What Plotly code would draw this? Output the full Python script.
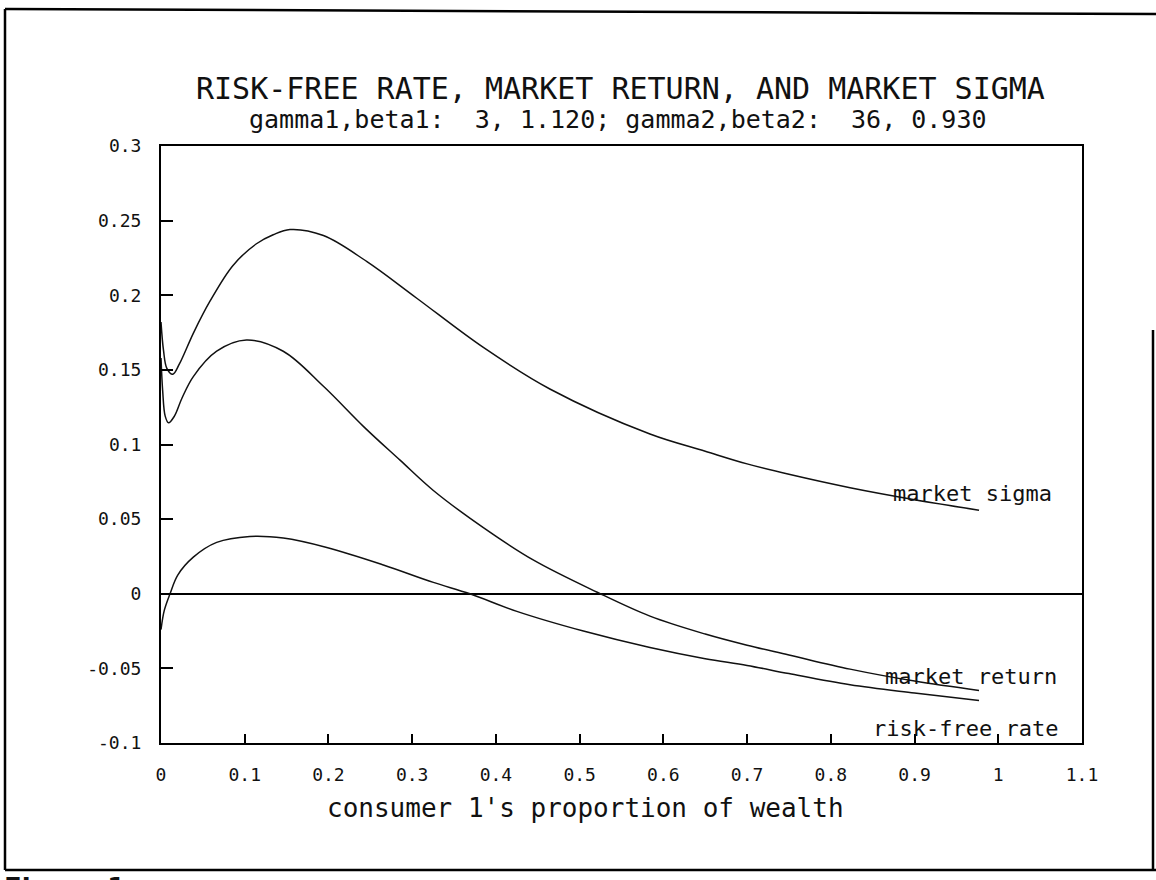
import plotly.graph_objects as go

# consumer 1's share of aggregate wealth, and the three equilibrium series
sigma_x = [0.000, 0.003, 0.007, 0.014, 0.022, 0.039, 0.0585, 0.086, 0.114, 0.134, 0.154,
           0.194, 0.246, 0.3055, 0.385, 0.465, 0.584, 0.65, 0.70, 0.75, 0.823, 0.90, 0.977]
sigma_y = [0.182, 0.163, 0.151, 0.147, 0.154, 0.175, 0.196, 0.220, 0.2345, 0.2405, 0.244,
           0.240, 0.2225, 0.198, 0.165, 0.137, 0.107, 0.0955, 0.087, 0.080, 0.071, 0.063, 0.056]

ret_x = [0.000, 0.002, 0.005, 0.009, 0.016, 0.025, 0.0386, 0.0665, 0.102, 0.146,
         0.194, 0.242, 0.2855, 0.3253, 0.385, 0.445, 0.521, 0.584, 0.65, 0.70, 0.75,
         0.823, 0.90, 0.977]
ret_y = [0.158, 0.136, 0.119, 0.1145, 0.119, 0.131, 0.1455, 0.1625, 0.170, 0.1625,
         0.139, 0.112, 0.0895, 0.0692, 0.0443, 0.0225, 0.001, -0.015, -0.027, -0.0345,
         -0.041, -0.0505, -0.0585, -0.0648]

rf_x = [0.000, 0.004, 0.0108, 0.02, 0.0386, 0.0665, 0.106, 0.146, 0.198, 0.2656,
        0.3253, 0.369, 0.425, 0.5045, 0.584, 0.65, 0.70, 0.75, 0.823, 0.90, 0.977]
rf_y = [-0.024, -0.011, 0.000, 0.0125, 0.0245, 0.0344, 0.0384, 0.0373, 0.031, 0.0193,
        0.0076, 0.000, -0.0118, -0.025, -0.036, -0.0435, -0.048, -0.0535, -0.061,
        -0.0665, -0.0715]

x_ticks = [0, 0.1, 0.2, 0.3, 0.4, 0.5, 0.6, 0.7, 0.8, 0.9, 1.0, 1.1]
x_tick_text = ["0", "0.1", "0.2", "0.3", "0.4", "0.5", "0.6", "0.7", "0.8", "0.9", "1", "1.1"]
y_ticks = [-0.1, -0.05, 0, 0.05, 0.1, 0.15, 0.2, 0.25, 0.3]
y_tick_text = ["-0.1", "-0.05", "0", "0.05", "0.1", "0.15", "0.2", "0.25", "0.3"]

title_text = "RISK-FREE RATE, MARKET RETURN, AND MARKET SIGMA"
subtitle_text = "gamma1,beta1:  3, 1.120; gamma2,beta2:  36, 0.930"
x_title = "consumer 1's proportion of wealth"

# series name, label position (x, y)
curve_labels = [("market sigma", 0.872, 0.067),
                ("market return", 0.862, -0.0556),
                ("risk-free rate", 0.848, -0.0905)]

W, H = 1156, 880
ML, MR, MT, MB = 161, 74, 146, 137
PW, PH = W - ML - MR, H - MT - MB
FONT = "DejaVu Sans Mono"
INK = "#111111"


def px(x):
    return (x - ML) / PW


def py(y):
    return (H - MB - y) / PH


fig = go.Figure()
for xs, ys in [(sigma_x, sigma_y), (ret_x, ret_y), (rf_x, rf_y)]:
    fig.add_trace(go.Scatter(x=xs, y=ys, mode="lines",
                             line=dict(color=INK, width=1.5, shape="spline", smoothing=1.0),
                             hoverinfo="skip", showlegend=False))

annotations = [
    dict(text=title_text, x=px(620), y=py(89), xref="paper", yref="paper",
         xanchor="center", yanchor="middle", showarrow=False,
         font=dict(family=FONT, size=30, color=INK)),
    dict(text=subtitle_text, x=px(618), y=py(120), xref="paper", yref="paper",
         xanchor="center", yanchor="middle", showarrow=False,
         font=dict(family=FONT, size=25, color=INK)),
    dict(text=x_title, x=px(585), y=py(808), xref="paper", yref="paper",
         xanchor="center", yanchor="middle", showarrow=False,
         font=dict(family=FONT, size=26, color=INK)),
    dict(text="<b>Figure 1.</b>", x=px(2), y=py(871), xref="paper", yref="paper",
         xanchor="left", yanchor="top", showarrow=False,
         font=dict(family="DejaVu Sans", size=26, color=INK)),
]
for name, lx, ly in curve_labels:
    annotations.append(dict(text=name, x=lx, y=ly, xref="x", yref="y",
                            xanchor="left", yanchor="middle", showarrow=False,
                            font=dict(family=FONT, size=22, color=INK)))

# page frame around the figure
frame = [((5, 9), (5, 870)), ((5, 9), (1156, 14)), ((5, 870), (1156, 870)),
         ((1153, 330), (1153, 870))]
shapes = [dict(type="line", xref="paper", yref="paper",
               x0=px(a[0]), y0=py(a[1]), x1=px(b[0]), y1=py(b[1]),
               line=dict(color="black", width=2.5)) for a, b in frame]

fig.update_layout(
    width=W, height=H,
    margin=dict(l=ML, r=MR, t=MT, b=MB),
    paper_bgcolor="white", plot_bgcolor="white",
    font=dict(family=FONT, size=18, color=INK),
    annotations=annotations, shapes=shapes,
)
fig.update_xaxes(range=[0, 1.1], tickvals=x_ticks, ticktext=x_tick_text,
                 showgrid=False, zeroline=False,
                 showline=True, mirror=True, linecolor="black", linewidth=2,
                 ticks="inside", ticklen=9, tickwidth=1.5, tickcolor="black",
                 ticklabelstandoff=14, tickfont=dict(family=FONT, size=18, color=INK))
fig.update_yaxes(range=[-0.1, 0.3], tickvals=y_ticks, ticktext=y_tick_text,
                 showgrid=False, zeroline=True, zerolinecolor="black", zerolinewidth=1.6,
                 showline=True, mirror=True, linecolor="black", linewidth=2,
                 ticks="inside", ticklen=12, tickwidth=1.5, tickcolor="black",
                 ticklabelstandoff=14, tickfont=dict(family=FONT, size=18, color=INK))

fig.write_html("out.html")
